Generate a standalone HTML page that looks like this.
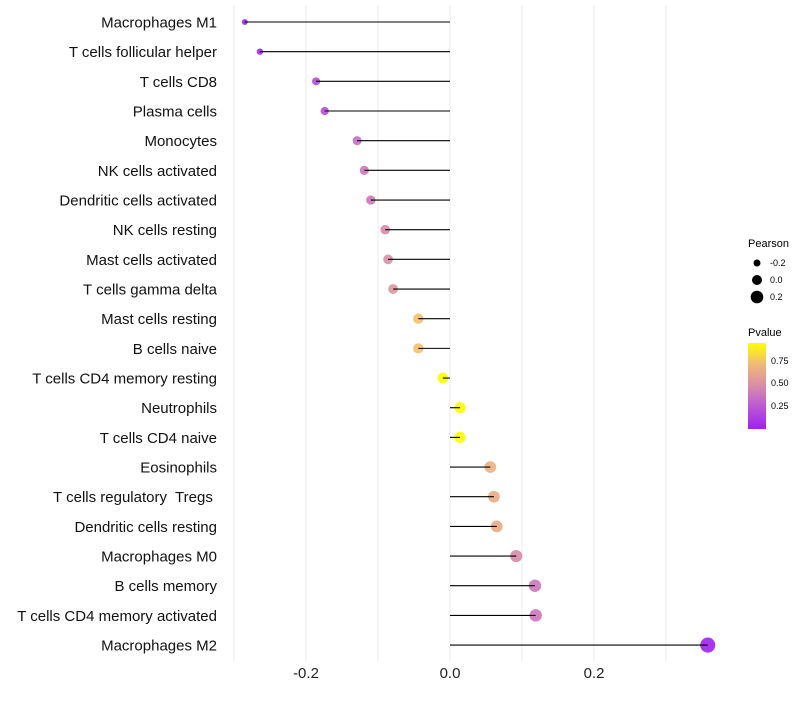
<!DOCTYPE html>
<html><head><meta charset="utf-8"><style>
body{margin:0;background:#fff;font-family:"Liberation Sans",sans-serif}
text{white-space:pre}
</style></head><body>
<svg id="chart" width="800" height="700" xmlns="http://www.w3.org/2000/svg" font-family="Liberation Sans, sans-serif">
<defs><linearGradient id="pg" x1="0" y1="1" x2="0" y2="0">
<stop offset="0" stop-color="#A020F0"/><stop offset="0.3" stop-color="#C060D0"/><stop offset="0.5" stop-color="#D88CA8"/><stop offset="0.75" stop-color="#F0B878"/><stop offset="1" stop-color="#FFFF00"/>
</linearGradient></defs>
<g id="grid"></g><g id="dots"></g><g id="marks"></g><g id="labels"></g>
<g font-size="10">
<text x="748" y="247" font-size="11">Pearson</text>
<circle cx="757" cy="263" r="3.5"/><text x="770" y="266" font-size="9">-0.2</text>
<circle cx="757" cy="280" r="5"/><text x="770" y="283" font-size="9">0.0</text>
<circle cx="757" cy="297" r="6.3"/><text x="770" y="300" font-size="9">0.2</text>
</g>
<g>
<text x="748" y="336" font-size="11">Pvalue</text>
<rect x="748" y="343" width="18" height="86" fill="url(#pg)"/>
<text x="771" y="364" font-size="9">0.75</text>
<text x="771" y="386" font-size="9">0.50</text>
<text x="771" y="409" font-size="9">0.25</text>
</g>
</svg>
<script>
const categories=["Macrophages M1","T cells follicular helper","T cells CD8","Plasma cells","Monocytes","NK cells activated","Dendritic cells activated","NK cells resting","Mast cells activated","T cells gamma delta","Mast cells resting","B cells naive","T cells CD4 memory resting","Neutrophils","T cells CD4 naive","Eosinophils","T cells regulatory  Tregs ","Dendritic cells resting","Macrophages M0","B cells memory","T cells CD4 memory activated","Macrophages M2"];
const pearson=[-0.285,-0.264,-0.186,-0.174,-0.129,-0.119,-0.110,-0.090,-0.086,-0.079,-0.044,-0.044,-0.010,0.014,0.014,0.056,0.061,0.065,0.092,0.118,0.119,0.358];
const pvalues=[0.02,0.05,0.2,0.22,0.35,0.4,0.4,0.48,0.5,0.55,0.75,0.75,0.95,0.95,0.95,0.68,0.66,0.66,0.48,0.4,0.4,0.02];
const xTicks=[-0.2,0.0,0.2];
const xTickLabels=["-0.2","0.0","0.2"];
const gridVals=[-0.3,-0.2,-0.1,0,0.1,0.2,0.3];
const NS="http://www.w3.org/2000/svg";
const x=v=>450+v*720;
const y=i=>22+i*29.67;
const stops=[[0,[160,32,240]],[0.3,[192,96,208]],[0.5,[216,140,168]],[0.75,[240,184,120]],[1,[255,255,0]]];
function col(p){const t=Math.max(0,Math.min(1,(p-0.02)/0.94));for(let k=1;k<stops.length;k++){if(t<=stops[k][0]){const a=stops[k-1],b=stops[k],f=(t-a[0])/(b[0]-a[0]);return`rgb(${a[1].map((c,j)=>Math.round(c+(b[1][j]-c)*f)).join(',')})`;}}return'rgb(255,255,0)';}
function mk(t,at,parent){const e=document.createElementNS(NS,t);for(const k in at)e.setAttribute(k,at[k]);parent.appendChild(e);return e;}
const grid=document.getElementById('grid'),marks=document.getElementById('marks'),dots=document.getElementById('dots'),labels=document.getElementById('labels');
gridVals.forEach(v=>{const l=mk('line',{x1:x(v),x2:x(v),y1:5,y2:662,stroke:'#ebebeb','stroke-width':1},grid);

});
xTicks.forEach((v,i)=>{const t=mk('text',{x:x(v),y:678,'text-anchor':'middle','font-size':15,fill:'#222'},labels);t.textContent=xTickLabels[i];

});
categories.forEach((c,i)=>{
const t=mk('text',{x:217,y:y(i)+5.5,'text-anchor':'end','font-size':15,fill:'#111'},labels);t.textContent=c;


const r=Math.sqrt(Math.max(2.5,30+75*pearson[i]));
const d=mk('circle',{cx:x(pearson[i]),cy:y(i),r:r,fill:col(pvalues[i]),'fill-opacity':0.9},dots);


const l=mk('line',{x1:x(0),x2:x(pearson[i]),y1:y(i),y2:y(i),stroke:'#000','stroke-width':1.1},marks);


});
</script>
</body></html>
